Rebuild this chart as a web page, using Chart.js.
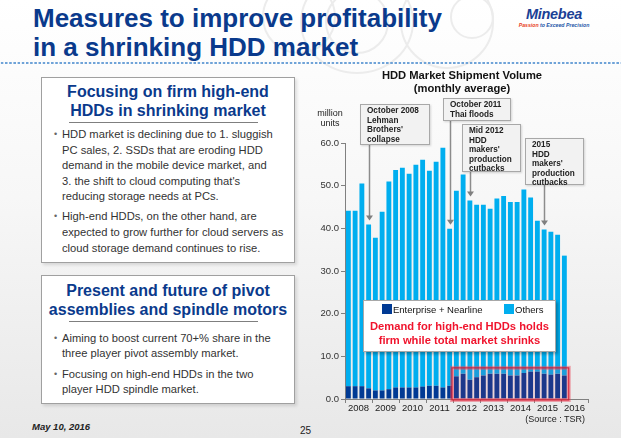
<!DOCTYPE html>
<html>
<head>
<meta charset="utf-8">
<script src="https://cdn.jsdelivr.net/npm/chart.js"></script>
<style>
  html, body { margin: 0; padding: 0; }
  body { width: 621px; height: 438px; overflow: hidden; font-family: "Liberation Sans", Arial, sans-serif; }
  #slide { position: relative; width: 621px; height: 438px; overflow: hidden;
    background: linear-gradient(to bottom, #ffffff 0%, #f7f7f7 45%, #e8e8e8 100%); }
  .ring { position: absolute; border-radius: 50%; border: 2px solid #ececec; }
  #title { position: absolute; left: 33px; top: 4px; font-size: 26px; font-weight: bold; color: #0a3a8c; line-height: 29px; white-space: nowrap; }
  #logo { position: absolute; left: 517px; top: 7px; width: 74px; text-align: center; }
  #logo .brand { font-size: 14.5px; font-weight: bold; font-style: italic; color: #1b3f95; letter-spacing: -0.3px; line-height: 15px; }
  #logo .tag { font-size: 5.2px; font-weight: bold; font-style: italic; color: #2456a8; line-height: 7px; white-space: nowrap; }
  #logo .tag span { color: #e8401c; }
  #dots { position: absolute; left: 0; top: 61px; width: 621px; height: 4px;
    background-image: radial-gradient(circle, #6fa3d8 1px, transparent 1.3px); background-size: 4.2px 4px; }
  .panel { position: absolute; left: 41px; width: 254px; background: #fff; border: 1px solid #a0a0a0;
    box-shadow: 2px 2px 3px rgba(0,0,0,0.12); box-sizing: border-box; }
  .panel h2 { margin: 0; font-size: 16px; font-weight: bold; color: #0a3a8c; text-align: center; line-height: 19px; }
  .panel .rule { margin: 2px 0 0 27px; width: 189px; height: 1px; background: #7f7f7f; }
  .panel ul { list-style: none; margin: 0; padding: 0; }
  .panel li { position: relative; padding-left: 20px; font-size: 11.2px; color: #333; line-height: 15.6px; white-space: nowrap; }
  .panel li::before { content: "\2022"; position: absolute; left: 12px; top: 0; color: #666; font-size: 9px; }
  #p1 { top: 77px; height: 186px; padding-top: 4px; }
  #p1 ul { margin-top: 4px; }
  #p1 li + li { margin-top: 4.5px; }
  #p2 { top: 275px; height: 129px; padding-top: 6px; }
  #p2 h2 { line-height: 18.6px; }
  #p2 ul { margin-top: 9px; }
  #p2 li { line-height: 14.6px; }
  #p2 li + li { margin-top: 7px; }
  #date { position: absolute; left: 32px; top: 421px; font-size: 9.5px; font-weight: bold; font-style: italic; color: #222; }
  #page { position: absolute; left: 300px; top: 425px; font-size: 10px; color: #222; }
  #chartWrap { position: absolute; left: 300px; top: 60px; width: 321px; height: 378px; }
  #ctitle { position: absolute; left: 381px; top: 69px; width: 162px; text-align: center; font-size: 11.2px; font-weight: bold; color: #111; line-height: 12.8px; }
  #unit { position: absolute; left: 314px; top: 108px; width: 32px; text-align: center; font-size: 9px; color: #222; line-height: 10px; }
  .callout { position: absolute; background: #f2f2f2; border: 1.5px solid #a8a8a8; box-sizing: border-box;
    font-size: 8.2px; font-weight: bold; color: #222; line-height: 9.5px; padding: 1px 0 0 6px; white-space: nowrap;
    box-shadow: 1px 1px 2px rgba(0,0,0,0.15); }
  #legend { position: absolute; left: 363px; top: 300px; width: 193px; height: 52px; background: #fff; border: 1px solid #a8a8a8;
    box-sizing: border-box; box-shadow: 2px 2px 3px rgba(0,0,0,0.3); }
  #legend .row { position: absolute; top: 3px; left: 0; width: 100%; font-size: 9.5px; color: #111; white-space: nowrap; }
  #legend .sw { display: inline-block; width: 10px; height: 10px; vertical-align: -1px; margin-right: 1px; }
  #legend .msg { position: absolute; top: 18px; left: 0; width: 100%; text-align: center; font-size: 11.2px; font-weight: bold; color: #f0142d; line-height: 14px; }
  #source { position: absolute; left: 520px; top: 414px; width: 65px; text-align: right; font-size: 9px; color: #222; white-space: nowrap; }
</style>
</head>
<body>
<div id="slide">
  <div class="ring" style="left:262px;top:-20px;width:70px;height:70px;"></div>
  <div class="ring" style="left:300px;top:-30px;width:110px;height:100px;"></div>
  <div class="ring" style="left:325px;top:-10px;width:60px;height:60px;"></div>
  <div class="ring" style="left:400px;top:-25px;width:90px;height:90px;"></div>
  <div class="ring" style="left:450px;top:-5px;width:40px;height:40px;"></div>

  <div id="title">Measures to improve profitability<br>in a shrinking HDD market</div>
  <div id="logo"><div class="brand">Minebea</div><div class="tag"><span>Passion</span> to Exceed Precision</div></div>
  <div id="dots"></div>

  <div class="panel" id="p1">
    <h2>Focusing on firm high-end<br>HDDs in shrinking market</h2>
    <div class="rule"></div>
    <ul>
      <li>HDD market is declining due to 1. sluggish<br>PC sales, 2. SSDs that are eroding HDD<br>demand in the mobile device market, and<br>3. the shift to cloud computing that's<br>reducing storage needs at PCs.</li>
      <li>High-end HDDs, on the other hand, are<br>expected to grow further for cloud servers as<br>cloud storage demand continues to rise.</li>
    </ul>
  </div>
  <div class="panel" id="p2">
    <h2>Present and future of pivot<br>assemblies and spindle motors</h2>
    <div class="rule"></div>
    <ul>
      <li>Aiming to boost current 70+% share in the<br>three player pivot assembly market.</li>
      <li>Focusing on high-end HDDs in the two<br>player HDD spindle market.</li>
    </ul>
  </div>
  <div id="date">May 10, 2016</div>
  <div id="page">25</div>

  <div id="chartWrap"><canvas id="c"></canvas></div>
  <div id="ctitle">HDD Market Shipment Volume<br>(monthly average)</div>
  <div id="unit">million<br>units</div>

  <div class="callout" style="left:360px;top:104px;width:70px;height:41px;">October 2008<br>Lehman<br>Brothers'<br>collapse</div>
  <div class="callout" style="left:443px;top:98px;width:68px;height:23px;">October 2011<br>Thai floods</div>
  <div class="callout" style="left:462px;top:124px;width:59px;height:48px;">Mid 2012<br>HDD<br>makers'<br>production<br>cutbacks</div>
  <div class="callout" style="left:525px;top:138px;width:59px;height:47px;">2015<br>HDD<br>makers'<br>production<br>cutbacks</div>

  <div id="legend">
    <div class="row"><span style="position:absolute;left:18px;"><span class="sw" style="background:#003a94;"></span>Enterprise + Nearline</span>
      <span style="position:absolute;left:140px;"><span class="sw" style="background:#00aeef;"></span>Others</span></div>
    <div class="msg">Demand for high-end HDDs holds<br>firm while total market shrinks</div>
  </div>
  <div id="source">(Source : TSR)</div>
</div>

<script>
// quarterly slots 2008 Q1 .. 2016 Q4 (data runs to 2016 Q1)
const quarters = [];
const years = ['2008', '2009', '2010', '2011', '2012', '2013', '2014', '2015', '2016'];
years.forEach(y => { for (let q = 1; q <= 4; q++) quarters.push(y + ' Q' + q); });

// million units, monthly average per quarter
const enterprise = [3.0, 3.0, 3.0, 2.5, 2.0, 2.0, 2.3, 2.7, 2.7, 2.7, 2.7, 2.9, 3.1, 3.1, 2.7, 3.1,
  5.3, 5.9, 4.5, 5.1, 5.5, 5.9, 5.9, 5.9, 5.5, 5.5, 6.1, 6.4, 6.4, 5.9, 5.7, 5.9, 5.5];
const others = [41.1, 41.1, 47.5, 38.4, 35.8, 41.9, 48.7, 51.0, 51.5, 50.1, 52.2, 53.2, 50.4, 52.5, 56.2, 36.8,
  43.5, 46.7, 42.0, 40.4, 40.0, 38.7, 41.1, 41.7, 40.7, 40.7, 43.0, 40.8, 35.4, 33.8, 33.5, 32.6, 28.1];

// callouts point at these quarters
const calloutBars = [3, 15, 18, 29];
const calloutLineTop = [145, 121, 172, 185]; // bottom edge of each box on the page

// red frame around 2012 Q1 .. 2016 Q1
const frameFrom = 16, frameTo = 32, frameTop = 7.3;

const overlay = {
  id: 'overlay',
  afterDatasetsDraw(chart) {
    const ctx = chart.ctx;
    const x = chart.scales.x, y = chart.scales.y;
    const slot = x.getPixelForValue(1) - x.getPixelForValue(0);
    const l = x.getPixelForValue(frameFrom) - slot / 2 - 1;
    const r = x.getPixelForValue(frameTo) + slot / 2 + 1;
    const t = y.getPixelForValue(frameTop);
    const b = y.getPixelForValue(0) + 1;
    ctx.save();
    ctx.fillStyle = 'rgba(230,50,70,0.12)';
    ctx.fillRect(l, t, r - l, b - t);
    ctx.strokeStyle = 'rgba(235,70,90,0.45)';
    ctx.lineWidth = 4;
    ctx.strokeRect(l, t, r - l, b - t);
    ctx.strokeStyle = 'rgba(215,20,45,0.85)';
    ctx.lineWidth = 1.2;
    ctx.strokeRect(l, t, r - l, b - t);

    // arrows from the callouts
    ctx.strokeStyle = '#8c8c8c';
    ctx.fillStyle = '#7f7f7f';
    ctx.lineWidth = 1.5;
    calloutBars.forEach((idx, i) => {
      const px = Math.round(x.getPixelForValue(idx)) + 0.5;
      const tip = y.getPixelForValue(enterprise[idx] + others[idx]) - 4;
      const top = calloutLineTop[i] - 60;
      ctx.beginPath();
      ctx.moveTo(px, top);
      ctx.lineTo(px, tip - 4);
      ctx.stroke();
      ctx.beginPath();
      ctx.moveTo(px - 3.5, tip - 5);
      ctx.lineTo(px + 3.5, tip - 5);
      ctx.lineTo(px, tip);
      ctx.closePath();
      ctx.fill();
    });
    ctx.restore();
  }
};

new Chart(document.getElementById('c'), {
  type: 'bar',
  data: {
    labels: quarters,
    datasets: [
      { label: 'Enterprise + Nearline', data: enterprise, backgroundColor: '#003a94', borderWidth: 0,
        barPercentage: 0.72, categoryPercentage: 1 },
      { label: 'Others', data: others, backgroundColor: '#00aeef', borderWidth: 0,
        barPercentage: 0.72, categoryPercentage: 1 }
    ]
  },
  options: {
    responsive: true,
    maintainAspectRatio: false,
    animation: false,
    layout: { padding: { top: 83, right: 33, bottom: 17, left: 0 } },
    plugins: { legend: { display: false }, tooltip: { enabled: false } },
    scales: {
      x: { stacked: true, display: false },
      x2: {
        type: 'category', labels: years, position: 'bottom', offset: true,
        grid: { display: true, drawOnChartArea: false, offset: true, tickLength: 4, color: '#808080' },
        border: { display: true, color: '#808080' },
        ticks: { autoSkip: false, maxRotation: 0, padding: 0, color: '#222', font: { size: 9.5, family: 'Liberation Sans' } },
        afterFit: s => { s.height = 22; }
      },
      y: {
        stacked: true, min: 0, max: 60,
        grid: { drawOnChartArea: false, tickLength: 4, color: '#808080' },
        border: { color: '#808080' },
        ticks: { stepSize: 10, padding: 2, color: '#333', font: { size: 9.5, family: 'Liberation Sans' },
          callback: v => v.toFixed(1) },
        afterFit: s => { s.width = 45; }
      }
    }
  },
  plugins: [overlay]
});
</script>
</body>
</html>
